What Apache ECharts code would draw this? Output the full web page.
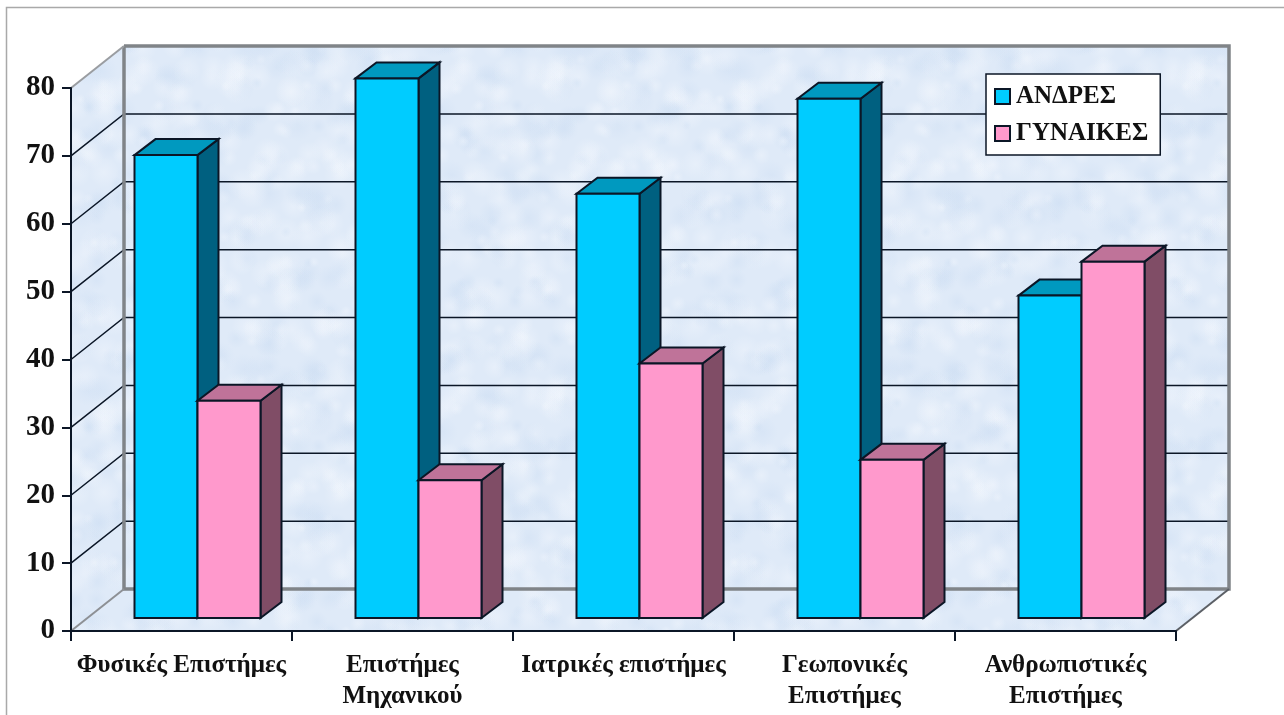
<!DOCTYPE html>
<html>
<head>
<meta charset="utf-8">
<style>html,body{margin:0;padding:0;background:#fff}#chart{width:1284px;height:715px}</style>
<script src="https://cdn.jsdelivr.net/npm/echarts@6/dist/echarts.min.js"></script>
</head>
<body>
<div id="chart"></div>
<script>
// Share of men and women by field of study
const categories = ['Φυσικές Επιστήμες', 'Επιστήμες\nΜηχανικού', 'Ιατρικές επιστήμες', 'Γεωπονικές\nΕπιστήμες', 'Ανθρωπιστικές\nΕπιστήμες'];
const men = [68.2, 79.5, 62.5, 76.5, 47.5];
const women = [32, 20.3, 37.5, 23.3, 52.5];
const yTicks = [0, 10, 20, 30, 40, 50, 60, 70, 80];

const FONT = '"Liberation Serif", serif';
const INK = '#0b1626';
const WALL_EDGE = '#808488';

// Pseudo-3D projection offsets, in pixels
const WALL = { dx: 53, dy: -42 };
const BAR = { inset: 16, lift: 13, dx: 21, dy: -16, width: 63 };

// Mottled pale-blue paper used on the walls and floor
function paperTexture() {
  const c = document.createElement('canvas');
  c.width = c.height = 320;
  const g = c.getContext('2d');
  g.fillStyle = '#dfeaf8';
  g.fillRect(0, 0, 320, 320);
  for (let i = 0; i < 420; i++) {
    const x = (i * 97.3 + 40 * Math.sin(i * 1.7)) % 320;
    const y = (i * 61.9 + 50 * Math.cos(i * 2.3)) % 320;
    const r = 5 + 11 * Math.abs(Math.sin(i * 0.77));
    const light = Math.sin(i * 3.1) > -0.3;
    const tone = light ? '243,247,253' : '205,222,243';
    for (const ox of [-320, 0, 320]) for (const oy of [-320, 0, 320]) {
      const grad = g.createRadialGradient(x + ox, y + oy, 0, x + ox, y + oy, r);
      grad.addColorStop(0, 'rgba(' + tone + ',0.4)');
      grad.addColorStop(1, 'rgba(' + tone + ',0)');
      g.fillStyle = grad;
      g.fillRect(x + ox - r, y + oy - r, r * 2, r * 2);
    }
  }
  return c;
}
const paper = { image: paperTexture(), repeat: 'repeat' };

function poly(points, fill, stroke, lineWidth) {
  return {
    type: 'polygon',
    shape: { points },
    style: { fill, stroke: stroke || null, lineWidth: lineWidth || 0, lineJoin: 'miter' }
  };
}
function line(points, stroke, lineWidth) {
  return {
    type: 'polyline',
    shape: { points },
    style: { fill: null, stroke, lineWidth }
  };
}

// Left wall, back wall and floor of the chart box
function renderWalls(params) {
  const r = params.coordSys;
  const l = r.x, t = r.y, b = r.y + r.height, w = r.x + r.width;
  const dx = WALL.dx, dy = WALL.dy;
  return {
    type: 'group',
    children: [
      poly([[l, b], [l + dx, b + dy], [l + dx, t + dy], [l, t]], paper),
      poly([[l + dx, t + dy], [w + dx, t + dy], [w + dx, b + dy], [l + dx, b + dy]], paper),
      poly([[l, b], [w, b], [w + dx, b + dy], [l + dx, b + dy]], paper)
    ]
  };
}

// Gridline running across the left wall and the back wall at one value
function renderGridline(params, api) {
  const v = api.value(0);
  const r = params.coordSys;
  const y = api.coord([0, v])[1];
  const l = r.x, w = r.x + r.width;
  return line([[l, y], [l + WALL.dx, y + WALL.dy], [w + WALL.dx, y + WALL.dy]], INK, 1.5);
}

// Grey frame edges of the box, drawn over the gridlines
function renderEdges(params) {
  const r = params.coordSys;
  const l = r.x, t = r.y, b = r.y + r.height, w = r.x + r.width;
  const dx = WALL.dx, dy = WALL.dy;
  return {
    type: 'group',
    children: [
      line([[l + dx, t + dy], [w + dx, t + dy], [w + dx, b + dy], [l + dx, b + dy], [l + dx, t + dy]], WALL_EDGE, 3.5),
      line([[l, t], [l + dx, t + dy]], '#9a9da1', 2),
      line([[l, b], [l + dx, b + dy]], '#8d9095', 2),
      line([[w, b], [w + dx, b + dy]], '#5c6066', 2)
    ]
  };
}

// One box-shaped bar; side = 0 sits left of the band centre, side = 1 right of it
function makeBar(side, front, top, flank) {
  return function (params, api) {
    const cat = api.value(0);
    const val = api.value(1);
    const p0 = api.coord([cat, 0]);
    const p1 = api.coord([cat, val]);
    const x0 = p0[0] + BAR.inset + (side - 1) * BAR.width;
    const x1 = x0 + BAR.width;
    const yb = p0[1] - BAR.lift;
    const yt = p1[1] - BAR.lift;
    const dx = BAR.dx, dy = BAR.dy;
    return {
      type: 'group',
      children: [
        poly([[x1, yb], [x1 + dx, yb + dy], [x1 + dx, yt + dy], [x1, yt]], flank, INK, 2),
        poly([[x0, yt], [x0 + dx, yt + dy], [x1 + dx, yt + dy], [x1, yt]], top, INK, 2),
        poly([[x0, yb], [x1, yb], [x1, yt], [x0, yt]], front, INK, 2)
      ]
    };
  };
}

const chart = echarts.init(document.getElementById('chart'), null, { renderer: 'canvas' });
chart.setOption({
  animation: false,
  backgroundColor: '#ffffff',
  graphic: [
    { type: 'polyline', silent: true, z: 0,
      shape: { points: [[6.5, 715], [6.5, 7.5], [1284, 7.5]] },
      style: { fill: null, stroke: '#a9a9a9', lineWidth: 1.5 } }
  ],
  grid: { left: 71, right: 108, top: 88, bottom: 84 },
  legend: {
    data: ['ΑΝΔΡΕΣ', 'ΓΥΝΑΙΚΕΣ'],
    orient: 'vertical',
    left: 986,
    top: 74,
    padding: [10, 12, 9, 8],
    itemGap: 12,
    itemWidth: 15,
    itemHeight: 15,
    backgroundColor: '#ffffff',
    borderColor: INK,
    borderWidth: 1.5,
    icon: 'rect',
    textStyle: { fontFamily: FONT, fontWeight: 'bold', fontSize: 25, color: '#111', padding: [2, 0, 0, 1] }
  },
  xAxis: {
    type: 'category',
    data: categories,
    boundaryGap: true,
    z: 20,
    axisLine: { lineStyle: { color: INK, width: 2 } },
    axisTick: { show: true, alignWithLabel: false, length: 10, lineStyle: { color: INK, width: 2 } },
    axisLabel: {
      interval: 0,
      margin: 19,
      fontFamily: FONT, fontWeight: 'bold', fontSize: 25, lineHeight: 31, color: '#111',
      verticalAlign: 'top'
    }
  },
  yAxis: {
    type: 'value',
    min: 0,
    max: 80,
    interval: 10,
    z: 20,
    splitLine: { show: false },
    axisLine: { show: true, lineStyle: { color: INK, width: 2 } },
    axisTick: { show: true, length: 9, lineStyle: { color: INK, width: 2 } },
    axisLabel: { margin: 16, padding: [7, 0, 0, 0], fontFamily: FONT, fontWeight: 'bold', fontSize: 29, color: '#111' }
  },
  series: [
    { type: 'custom', name: 'walls', silent: true, z: 1, data: [[0]], renderItem: renderWalls,
      coordinateSystem: 'cartesian2d', encode: { y: 0 }, clip: false },
    { type: 'custom', name: 'gridlines', silent: true, z: 2, clip: false,
      data: yTicks.slice(1, -1).map(v => [v]), renderItem: renderGridline, encode: { y: 0 } },
    { type: 'custom', name: 'edges', silent: true, z: 3, data: [[0]], renderItem: renderEdges,
      encode: { y: 0 }, clip: false },
    { type: 'custom', name: 'ΑΝΔΡΕΣ', z: 4, clip: false,
      itemStyle: { color: '#00ccff', borderColor: INK, borderWidth: 2 },
      data: men.map((v, i) => [i, v]), encode: { x: 0, y: 1 },
      renderItem: makeBar(0, '#00ccff', '#0099bf', '#006080') },
    { type: 'custom', name: 'ΓΥΝΑΙΚΕΣ', z: 5, clip: false,
      itemStyle: { color: '#ff99cc', borderColor: INK, borderWidth: 2 },
      data: women.map((v, i) => [i, v]), encode: { x: 0, y: 1 },
      renderItem: makeBar(1, '#ff99cc', '#bf7399', '#804d66') }
  ]
});
</script>
</body>
</html>
